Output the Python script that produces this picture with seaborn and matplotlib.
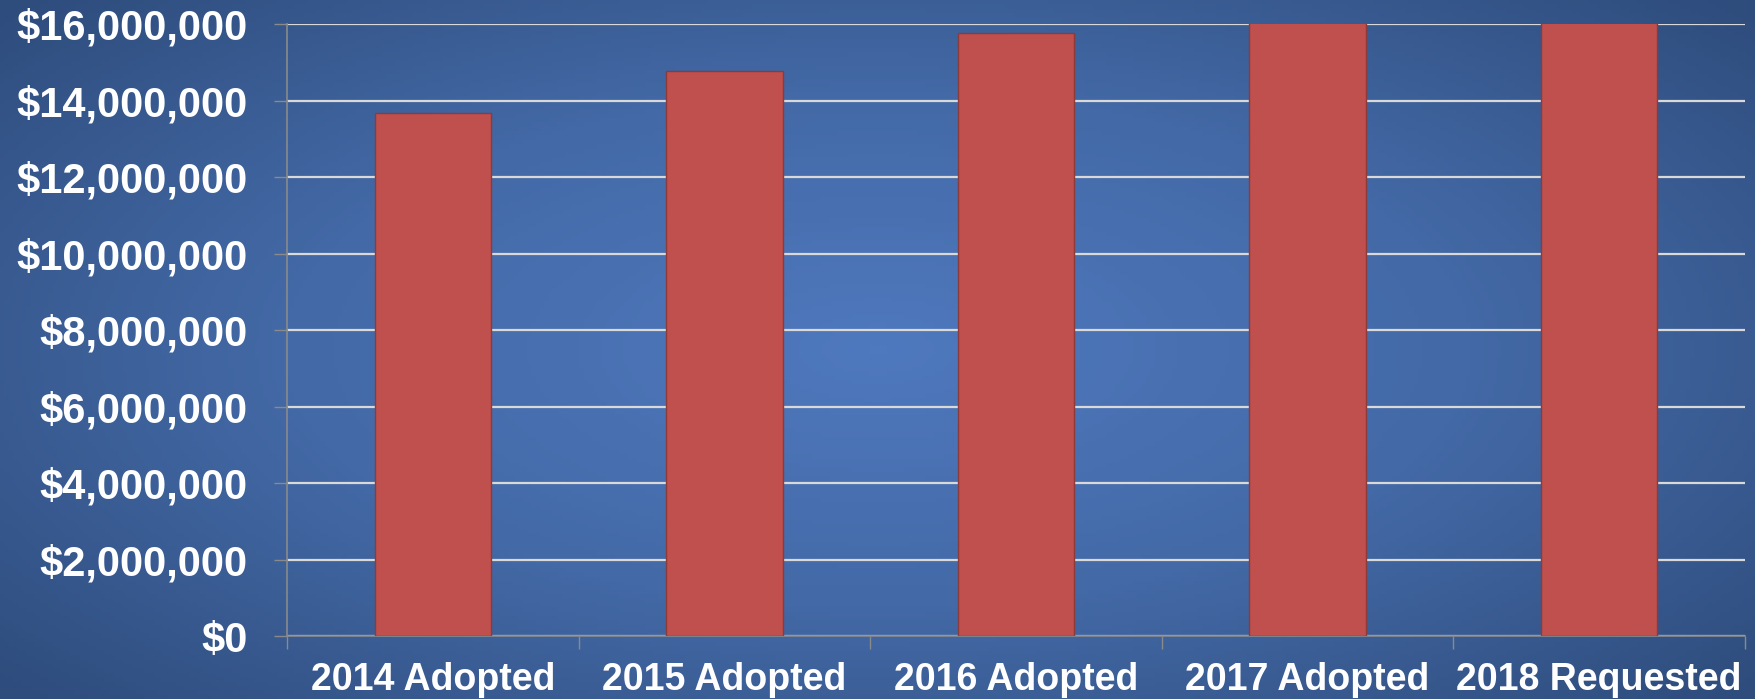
import numpy as np
import pandas as pd
import matplotlib
matplotlib.use("Agg")
import matplotlib.pyplot as plt
from matplotlib.colors import LinearSegmentedColormap
from matplotlib.ticker import FuncFormatter, FixedLocator
import seaborn as sns

# data
categories = ["2014 Adopted", "2015 Adopted", "2016 Adopted", "2017 Adopted", "2018 Requested"]
budget = [13680000, 14770000, 15770000, 16600000, 17200000]
y_ticks = [0, 2000000, 4000000, 6000000, 8000000, 10000000, 12000000, 14000000, 16000000]

df = pd.DataFrame({"category": categories, "budget": budget})

sns.set_theme(style="white")
plt.rcParams["font.family"] = ["Liberation Sans", "DejaVu Sans"]

fig = plt.figure(figsize=(17.56, 6.99), dpi=100)

# radial gradient background
bg = fig.add_axes([0, 0, 1, 1], zorder=0)
xx, yy = np.meshgrid(np.linspace(-1, 1, 400), np.linspace(-1, 1, 160))
r = np.sqrt((xx / 1.0) ** 2 + (yy / 1.1) ** 2)
cmap_bg = LinearSegmentedColormap.from_list("bg", ["#4f79be", "#4369a6", "#2e4c7c"])
bg.imshow(np.clip(r / 1.35, 0, 1), cmap=cmap_bg, aspect="auto", extent=[0, 1, 0, 1])
bg.axis("off")

ax = fig.add_axes([0.1635, 0.09, 0.83, 0.875], zorder=1)
ax.patch.set_alpha(0)

sns.barplot(data=df, x="category", y="budget", color="#c0504d", saturation=1,
            width=0.4, edgecolor="#8c3a3a", linewidth=1, ax=ax, zorder=3)

ax.set_xlim(-0.5, len(categories) - 0.5)
ax.set_ylim(0, 16000000)
ax.yaxis.set_major_locator(FixedLocator(y_ticks))
ax.yaxis.set_major_formatter(FuncFormatter(lambda v, p: "${:,.0f}".format(v)))
ax.grid(axis="y", color="#d9d9d9", linewidth=1.6, zorder=0)
ax.set_axisbelow(True)

# ticks at category boundaries
ax.set_xticks(np.arange(-0.5, len(categories), 1), minor=True)
ax.tick_params(axis="x", which="major", bottom=True, length=0, pad=19, labelsize=27, labelcolor="white")
ax.tick_params(axis="x", which="minor", bottom=True, length=9, width=1, color="#8a8a8a", direction="out")
ax.tick_params(axis="y", which="major", left=True, length=9.4, width=1, color="#8a8a8a", direction="out",
               pad=19, labelsize=30, labelcolor="white")
ax.tick_params(axis="y", which="minor", left=False)
for lab in ax.get_xticklabels() + ax.get_yticklabels():
    lab.set_fontweight("bold")

for s in ["top", "right"]:
    ax.spines[s].set_visible(False)
ax.spines["left"].set_color("#8a8a8a")
ax.spines["bottom"].set_color("#8a8a8a")
ax.spines["left"].set_linewidth(1.2)
ax.spines["bottom"].set_linewidth(1.2)
ax.set_xlabel("")
ax.set_ylabel("")

fig.savefig("out.png", dpi=100)
